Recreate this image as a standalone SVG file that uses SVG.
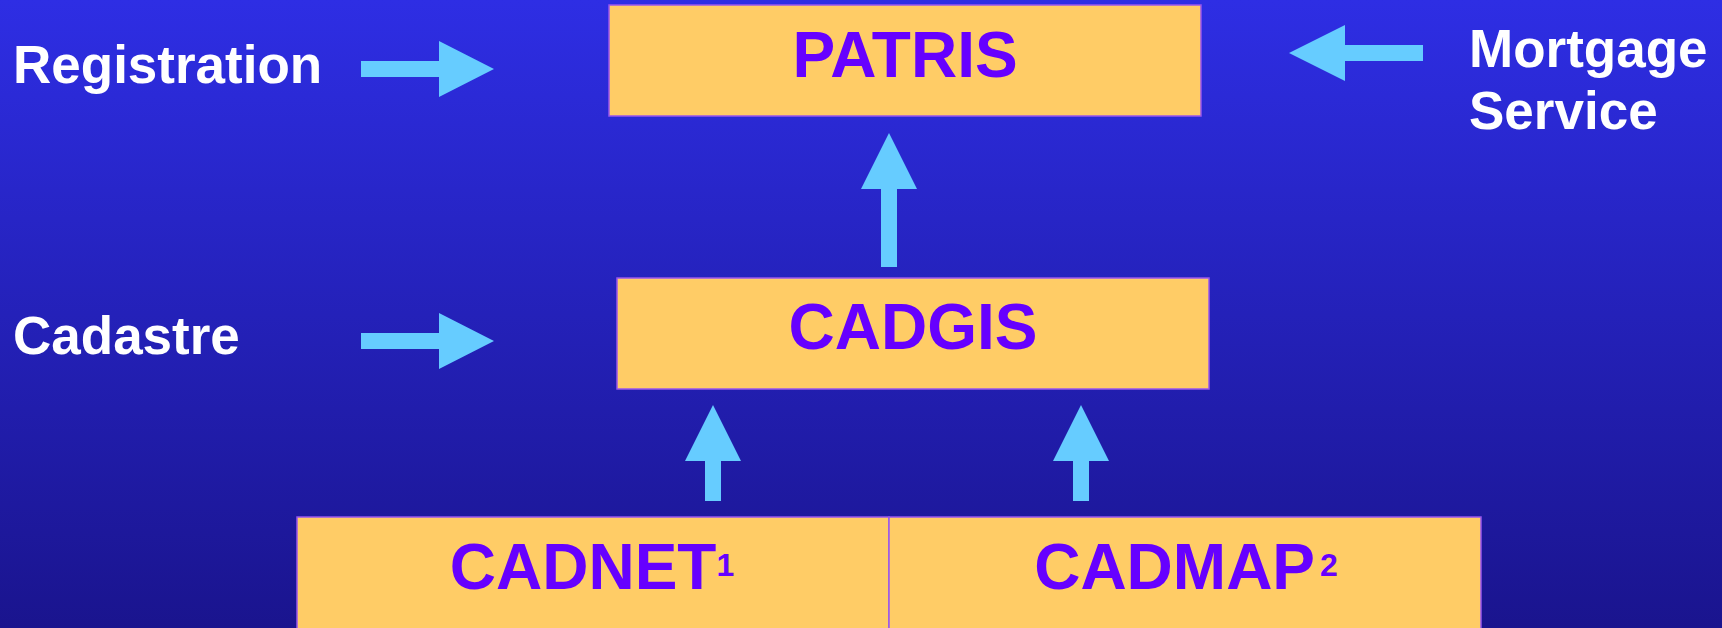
<svg xmlns="http://www.w3.org/2000/svg" width="1722" height="628" viewBox="0 0 1722 628">
<defs>
<linearGradient id="bg" x1="0" y1="0" x2="0" y2="1">
<stop offset="0" stop-color="#2E2EE4"/>
<stop offset="1" stop-color="#1A148E"/>
</linearGradient>
</defs>
<style>
.box{fill:#FFCC66;stroke:#9955EE;stroke-width:1.5}
.bt{font-family:"Liberation Sans",Arial,sans-serif;font-weight:bold;font-size:64px;fill:#6600FF;text-anchor:middle}
.lbl{font-family:"Liberation Sans",Arial,sans-serif;font-weight:bold;font-size:53px;fill:#FFFFFF}
.arr{fill:#66CCFF}
</style>
<rect x="0" y="0" width="1722" height="628" fill="url(#bg)"/>
<g id="connectors">
<polygon class="arr" points="361,61 439,61 439,41 494,69 439,97 439,77 361,77"/>
<polygon class="arr" points="361,333 439,333 439,313 494,341 439,369 439,349 361,349"/>
<polygon class="arr" points="1423,45 1345,45 1345,25 1289,53 1345,81 1345,61 1423,61"/>
<polygon class="arr" points="881,267 881,189 861,189 889,133 917,189 897,189 897,267"/>
<polygon class="arr" points="705,501 705,461 685,461 713,405 741,461 721,461 721,501"/>
<polygon class="arr" points="1073,501 1073,461 1053,461 1081,405 1109,461 1089,461 1089,501"/>
</g>
<g id="patris">
<rect class="box" x="609" y="5" width="592" height="111"/>
<text class="bt" x="905" y="77">PATRIS</text>
</g>
<g id="cadgis">
<rect class="box" x="617" y="278" width="592" height="111"/>
<text class="bt" x="913" y="349">CADGIS</text>
</g>
<g id="cadnet">
<rect class="box" x="297" y="517" width="592" height="130"/>
<text class="bt" x="592" y="589">CADNET<tspan font-size="32" dy="-13">1</tspan></text>
</g>
<g id="cadmap">
<rect class="box" x="889" y="517" width="592" height="130"/>
<text class="bt" x="1186" y="589">CADMAP<tspan font-size="32" dy="-13" dx="5">2</tspan></text>
</g>
<g id="registration">
<text class="lbl" x="13" y="83">Registration</text>
</g>
<g id="cadastre">
<text class="lbl" x="13" y="354">Cadastre</text>
</g>
<g id="mortgage">
<text class="lbl" x="1469" y="67">Mortgage</text>
<text class="lbl" x="1469" y="129">Service</text>
</g>
</svg>
